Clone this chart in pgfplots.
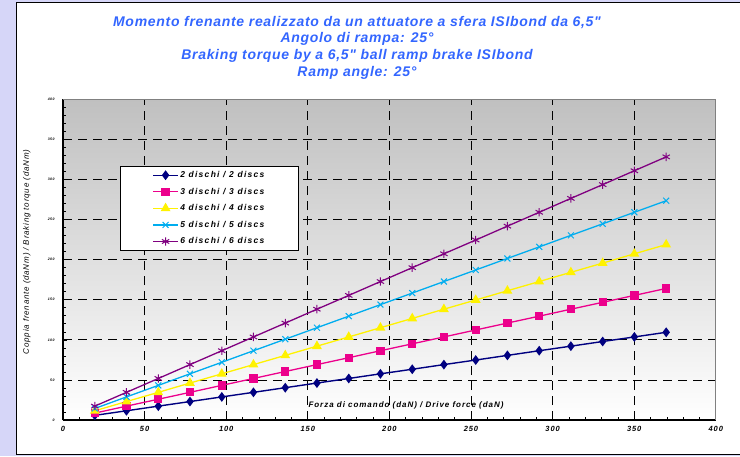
\documentclass[border=0pt]{standalone}
\usepackage{fontspec}
\setmainfont{Liberation Sans}
\newfontfamily\titlefont[LetterSpace=5]{Liberation Sans}
\newfontfamily\widefont[LetterSpace=12]{Liberation Sans}
\newfontfamily\legfont[LetterSpace=15]{Liberation Sans}
\newfontfamily\midfont[LetterSpace=10]{Liberation Sans}
\usepackage{pgfplots}
\pgfplotsset{compat=1.18}
\usepackage{pgfplotstable}
\definecolor{lav}{RGB}{214,214,248}
\definecolor{titleblue}{RGB}{51,102,255}
\definecolor{navy}{RGB}{0,0,128}
\definecolor{purp}{RGB}{128,0,128}
\definecolor{topgrey}{RGB}{192,192,192}

\pgfplotstableread{
x     d2    d3    d4    d5    d6
19.5  5.8   8.6   11.5  14.4  17.3
38.9  11.5  17.3  23.0  28.8  34.5
58.4  17.3  25.9  34.5  43.2  51.8
77.8  23.0  34.5  46.1  57.6  69.1
97.3  28.8  43.2  57.6  72.0  86.4
116.7 34.5  51.8  69.1  86.4  103.6
136.2 40.3  60.5  80.6  100.8 120.9
155.6 46.1  69.1  92.1  115.1 138.2
175.1 51.8  77.7  103.6 129.5 155.4
194.5 57.6  86.4  115.1 143.9 172.7
214.0 63.3  95.0  126.7 158.3 190.0
233.4 69.1  103.6 138.2 172.7 207.3
252.9 74.8  112.3 149.7 187.1 224.5
272.3 80.6  120.9 161.2 201.5 241.8
291.8 86.4  129.5 172.7 215.9 259.1
311.2 92.1  138.2 184.2 230.3 276.4
330.7 97.9  146.8 195.7 244.7 293.6
350.1 103.6 155.4 207.3 259.1 310.9
369.6 109.4 164.1 218.8 273.5 328.2
}\datatable

\begin{document}
\begin{tikzpicture}[x=1pt,y=1pt]
\fill[lav] (0,0) rectangle (740,456);
\useasboundingbox (0,0) rectangle (740,456);
\draw[black, line width=1pt, fill=white] (16,2) rectangle (760,453);

\node[align=center, text=titleblue, font=\fontsize{14}{16.7}\selectfont\titlefont\bfseries\itshape] at (357,408.5)
 {Momento frenante realizzato da un attuatore a sfera ISIbond da 6,5\symbol{34}\\
  Angolo di rampa: 25°\\
  Braking torque by a 6,5\symbol{34} ball ramp brake ISIbond\\
  Ramp angle: 25°};

\begin{axis}[
  at={(63pt,36pt)}, anchor=south west,
  scale only axis, width=652.8pt, height=320.7pt,
  xmin=0, xmax=400, ymin=0, ymax=400,
  axis lines*=left,
  axis line style={-, black, line width=1.2pt},
  xtick={0,50,...,400}, ytick={0,50,...,400},
  minor tick num=4,
  tick align=inside,
  major tick length=4pt, minor tick length=3pt,
  tick style={black, line width=0.6pt},
  grid=major,
  major grid style={black, dash pattern=on 9pt off 6pt, line width=0.8pt},
  axis background/.style={top color=topgrey, bottom color=white},
  /pgf/number format/assume math mode=true,
  xticklabel style={font=\fontsize{7.5}{9}\selectfont\widefont\bfseries\itshape, yshift=-3pt},
  yticklabel style={font=\fontsize{3.5}{4}\selectfont\widefont\bfseries\itshape, xshift=-5pt},
  legend cell align=left,
  legend style={at={(0.0873,0.792)}, anchor=north west, draw=black, fill=white,
    font=\fontsize{8.5}{10}\selectfont\legfont\bfseries\itshape,
    inner xsep=32pt, inner ysep=3pt, row sep=4.9pt, line width=0.8pt,
    nodes={inner xsep=1.5pt}},
  legend image code/.code={\draw[mark repeat=2,mark phase=2,#1] plot coordinates {(0pt,0pt)(12.5pt,0pt)(25pt,0pt)};},
]
\draw[gray, line width=1pt] (rel axis cs:1,0) -- (rel axis cs:1,1);
\draw[gray, line width=1pt] (rel axis cs:0,1) -- (rel axis cs:1,1);
\addplot[navy, line width=1.4pt, mark=diamond*, mark size=3.8pt, mark options={solid, fill=navy}] table[x=x,y=d2] {\datatable};
\addlegendentry{2 dischi / 2 discs}
\addplot[magenta, line width=1.3pt, mark=square*, mark size=3.5pt, mark options={solid, fill=magenta}] table[x=x,y=d3] {\datatable};
\addlegendentry{3 dischi / 3 discs}
\addplot[yellow, line width=1.3pt, mark=triangle*, mark size=4.4pt, mark options={solid, fill=yellow}] table[x=x,y=d4] {\datatable};
\addlegendentry{4 dischi / 4 discs}
\addplot[cyan, line width=1.3pt, mark=x, mark size=4.2pt, mark options={solid, line width=1pt}] table[x=x,y=d5] {\datatable};
\addlegendentry{5 dischi / 5 discs}
\addplot[purp, line width=1.3pt, mark=asterisk, mark size=4.2pt, mark options={solid, line width=1pt}] table[x=x,y=d6] {\datatable};
\addlegendentry{6 dischi / 6 discs}
\end{axis}

\node[font=\fontsize{8}{9}\selectfont\widefont\bfseries\itshape] at (406,51) {Forza di comando (daN) / Drive force (daN)};
\node[rotate=90, font=\fontsize{8}{9}\selectfont\midfont\itshape] at (26.7,204) {Coppia frenante (daNm) / Braking torque (daNm)};
\end{tikzpicture}
\end{document}
